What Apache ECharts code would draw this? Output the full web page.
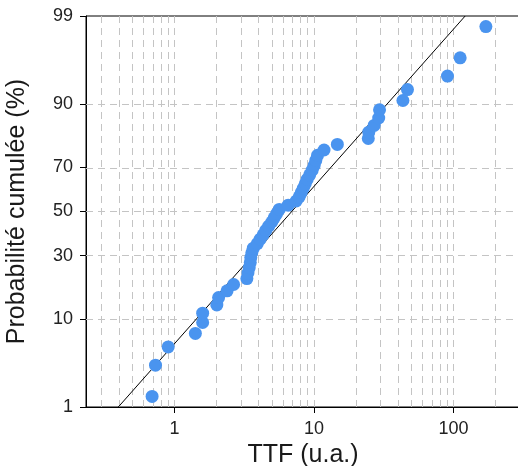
<!DOCTYPE html>
<html>
<head>
<meta charset="utf-8">
<script src="https://cdn.jsdelivr.net/npm/echarts@6/dist/echarts.min.js"></script>
<style>
html,body{margin:0;padding:0;background:#fff;}
#chart{width:518px;height:466px;}
</style>
</head>
<body>
<div id="chart"></div>
<script>
// ---- data ----
const ttf = [0.69, 0.73, 0.90, 1.41, 1.59, 1.59, 2.01, 2.07, 2.38, 2.65,
             3.30, 3.36, 3.43, 3.49, 3.52, 3.58, 3.67, 3.92, 4.11, 4.32,
             4.51, 4.73, 4.98, 5.18, 5.40, 5.63, 6.53, 7.45, 7.83, 8.10,
             8.37, 8.65, 8.93, 9.31, 9.70, 10.03, 10.3, 10.6, 11.8, 14.7,
             24.5, 24.7, 27.0, 29.1, 29.5, 43.4, 46.8, 90.6, 111.7, 170.8];
const cumProb = [1.39, 3.37, 5.36, 7.34, 9.33, 11.31, 13.29, 15.28, 17.26, 19.25,
                 21.23, 23.21, 25.20, 27.18, 29.17, 31.15, 33.13, 35.12, 37.10, 39.09,
                 41.07, 43.06, 45.04, 47.02, 49.01, 50.99, 52.98, 54.96, 56.94, 58.93,
                 60.91, 62.90, 64.88, 66.87, 68.85, 70.83, 72.82, 74.80, 76.79, 78.77,
                 80.75, 82.74, 84.72, 86.71, 88.69, 90.67, 92.66, 94.64, 96.63, 98.61];
const fitTtf = [0.395, 121.3];
const fitProb = [1, 99];
const yTickLabels = [1, 10, 30, 50, 70, 90, 99];
const xTickLabels = [1, 10, 100];
const xGridValues = [0.3, 0.4, 0.5, 0.6, 0.7, 0.8, 0.9, 1, 2, 3, 4, 5, 6, 7, 8, 9,
                     10, 20, 30, 40, 50, 60, 70, 80, 90, 100, 200];
const yGridLabels = [10, 30, 50, 70, 90];
const xMin = 0.2317, xMax = 300;

// inverse normal CDF (probability scale transform)
function probit(p) {
  const a = [-3.969683028665376e+01, 2.209460984245205e+02, -2.759285104469687e+02, 1.383577518672690e+02, -3.066479806614716e+01, 2.506628277459239e+00];
  const b = [-5.447609879822406e+01, 1.615858368580409e+02, -1.556989798598866e+02, 6.680131188771972e+01, -1.328068155288572e+01];
  const c = [-7.784894002430293e-03, -3.223964580411365e-01, -2.400758277161838e+00, -2.549732539343734e+00, 4.374664141464968e+00, 2.938163982698783e+00];
  const d = [7.784695709041462e-03, 3.224671290700398e-01, 2.445134137142996e+00, 3.754408661907416e+00];
  const plow = 0.02425, phigh = 1 - plow;
  let q, r;
  if (p < plow) {
    q = Math.sqrt(-2 * Math.log(p));
    return (((((c[0]*q+c[1])*q+c[2])*q+c[3])*q+c[4])*q+c[5]) / ((((d[0]*q+d[1])*q+d[2])*q+d[3])*q+1);
  } else if (p <= phigh) {
    q = p - 0.5; r = q*q;
    return (((((a[0]*r+a[1])*r+a[2])*r+a[3])*r+a[4])*r+a[5])*q / (((((b[0]*r+b[1])*r+b[2])*r+b[3])*r+b[4])*r+1);
  } else {
    q = Math.sqrt(-2 * Math.log(1 - p));
    return -(((((c[0]*q+c[1])*q+c[2])*q+c[3])*q+c[4])*q+c[5]) / ((((d[0]*q+d[1])*q+d[2])*q+d[3])*q+1);
  }
}
const z = pct => probit(pct / 100);
const yTickVals = yTickLabels.map(z);

const pts = ttf.map((t, i) => [t, z(cumProb[i])]);
const fitLine = fitTtf.map((t, i) => [t, z(fitProb[i])]);

const gridLineStyle = { color: '#c4c4c4', width: 1, type: [7, 5] };
const markData = xGridValues.map(v => ({ xAxis: v }))
  .concat(yGridLabels.map(p => ({ yAxis: z(p) })));

const chart = echarts.init(document.getElementById('chart'), null, { renderer: 'canvas' });
chart.setOption({
  animation: false,
  backgroundColor: '#fff',
  textStyle: { fontFamily: 'Liberation Sans, Arial, sans-serif' },
  grid: { left: 86, right: -2, top: 16, bottom: 59, containLabel: false, outerBoundsMode: 'none',
          show: true, borderColor: '#000', borderWidth: 1, backgroundColor: 'transparent' },
  xAxis: {
    type: 'log', logBase: 10, min: xMin, max: xMax,
    name: 'TTF (u.a.)', nameLocation: 'middle', nameGap: 24,
    nameTextStyle: { fontSize: 25, color: '#1a1a1a', fontFamily: 'Liberation Sans, Arial, sans-serif' },
    axisLine: { show: true, onZero: false, lineStyle: { color: '#000', width: 1 } },
    axisTick: { show: true, length: 6, inside: false, lineStyle: { color: '#000' }, customValues: xTickLabels },
    axisLabel: { fontSize: 18, color: '#222', margin: 13, customValues: xTickLabels,
                 formatter: v => String(Math.round(v)) },
    splitLine: { show: false }, minorSplitLine: { show: false }
  },
  yAxis: {
    type: 'value', min: z(1), max: z(99),
    name: 'Probabilité cumulée (%)', nameLocation: 'middle', nameGap: 56,
    nameTextStyle: { fontSize: 25, color: '#1a1a1a', fontFamily: 'Liberation Sans, Arial, sans-serif' },
    axisLine: { show: true, onZero: false, lineStyle: { color: '#000', width: 1 } },
    axisTick: { show: true, length: 6, inside: false, lineStyle: { color: '#000' }, customValues: yTickVals },
    axisLabel: { fontSize: 18, color: '#222', margin: 13, customValues: yTickVals,
                 formatter: v => {
                   let best = 0, bd = Infinity;
                   yTickVals.forEach((tv, i) => { const dd = Math.abs(tv - v); if (dd < bd) { bd = dd; best = i; } });
                   return String(yTickLabels[best]);
                 } },
    splitLine: { show: false }
  },
  series: [
    {
      type: 'line', data: [], z: 1, silent: true,
      markLine: {
        silent: true, symbol: 'none', z: 1, animation: false,
        label: { show: false },
        lineStyle: gridLineStyle,
        emphasis: { disabled: true },
        data: markData
      }
    },
    {
      type: 'line', data: fitLine, z: 2, silent: true,
      showSymbol: false, symbol: 'none',
      lineStyle: { color: '#000', width: 1 }
    },
    {
      type: 'scatter', data: pts, z: 3,
      symbol: 'circle', symbolSize: 13,
      itemStyle: { color: '#4a94ef', opacity: 1 }
    }
  ]
});
</script>
</body>
</html>
